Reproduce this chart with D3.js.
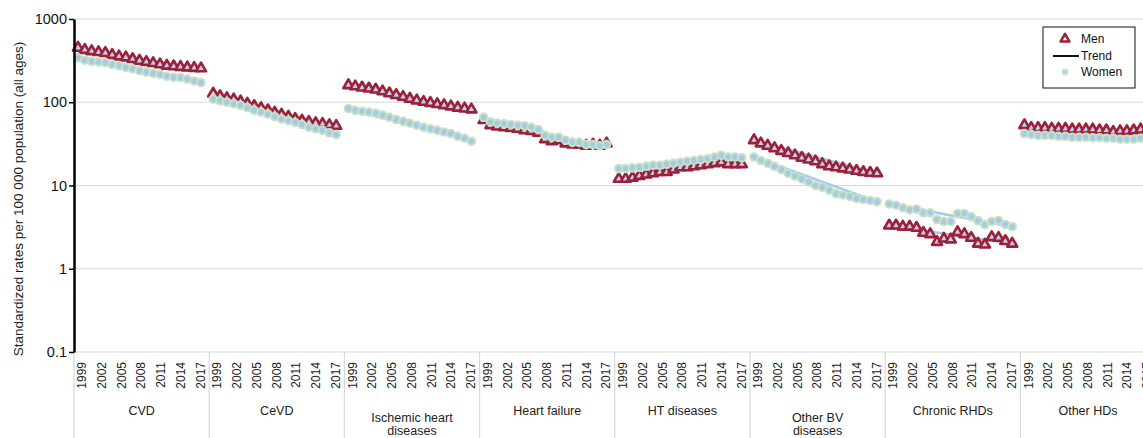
<!DOCTYPE html>
<html lang="en">
  <head>
    <meta charset="UTF-8" />
    <title>Standardized rates by cause</title>
    <script src="https://cdn.jsdelivr.net/npm/d3@7"></script>
    <style>
      body { margin: 0; background: #fff; }
      svg { font-family: "Liberation Sans", Arial, sans-serif; }
    </style>
  </head>
  <body>
    <svg width="1143" height="438"></svg>
    <script>
      const width = 1143;
      const height = 438;

      const categories = ["CVD", "CeVD", "Ischemic heart\ndiseases", "Heart failure",
        "HT diseases", "Other BV\ndiseases", "Chronic RHDs", "Other HDs"];
      const years = d3.range(1999, 2018);
      const tickYears = [1999, 2002, 2005, 2008, 2011, 2014, 2017];
      const yTicks = [0.1, 1, 10, 100, 1000];

      // rates per 100 000, 1999..2017, one row per category
      const men = [
        [451, 425, 410, 400, 390, 370, 355, 345, 330, 315, 305, 295, 285, 275, 270, 265, 262, 258, 255],
        [127, 118, 112, 108, 102, 96, 90, 85, 80, 75, 71, 67, 63, 60, 58, 56, 55, 53, 52],
        [160, 155, 150, 146, 142, 135, 128, 122, 116, 110, 105, 101, 98, 95, 92, 89, 86, 84, 82],
        [61, 53, 51, 50, 49, 48, 46, 45, 43, 36, 34, 35, 32, 31, 31, 30, 31, 30, 32],
        [12.0, 12.0, 12.4, 13, 13.5, 14, 14.5, 14.5, 15.5, 16.5, 16.5, 17, 17.5, 18, 18.5, 19, 18, 18, 18],
        [35, 32, 30, 28, 26, 24.5, 23, 21.5, 20.5, 19.5, 18, 17, 16.5, 16, 15.5, 15, 14.5, 14.2, 14],
        [3.3, 3.3, 3.2, 3.2, 3.1, 2.7, 2.6, 2.1, 2.3, 2.25, 2.75, 2.6, 2.35, 2.0, 1.95, 2.4, 2.35, 2.15, 2.0],
        [53, 49, 49, 49, 48, 48, 48, 47, 47, 47, 47, 46, 46, 44, 45, 45, 46, 47, 47]
      ];
      const women = [
        [342, 320, 310, 305, 300, 285, 275, 262, 252, 240, 230, 222, 215, 205, 200, 198, 190, 180, 172],
        [109, 104, 100, 96, 92, 86, 80, 76, 72, 67, 63, 60, 57, 54, 50, 48, 46, 43, 41],
        [84, 80, 78, 76, 74, 70, 66, 62, 59, 56, 53, 50, 48, 46, 44, 42, 39, 37, 34],
        [66, 58, 56, 55, 54, 53, 52, 50, 47, 40, 38, 38, 35, 33, 33, 31, 31, 30, 31],
        [16, 16, 16.3, 16.5, 17, 17.5, 17.5, 18, 18.5, 19, 19.5, 20, 20.5, 21, 22, 23, 22, 22, 21.5],
        [22, 20, 18.5, 17, 15.5, 14, 13, 12, 11, 10, 9.5, 8.8, 8, 7.7, 7.4, 7, 6.8, 6.6, 6.4],
        [6.0, 5.8, 5.4, 5.1, 5.2, 4.7, 4.7, 3.9, 3.7, 3.7, 4.6, 4.6, 4.2, 3.8, 3.4, 3.7, 3.8, 3.4, 3.2],
        [42, 41, 40, 40, 40, 39, 39, 38, 38, 38, 37.5, 37.5, 37, 37, 36, 36, 36, 37, 37]
      ];
      // trend joinpoints [year, rate]
      const trendMen = [
        [[1999, 445], [2017, 250]],
        [[1999, 125], [2017, 51]],
        [[1999, 158], [2017, 81]],
        [[1999, 58], [2007, 44], [2008, 35], [2017, 31]],
        [[1999, 12], [2013, 18.5], [2017, 18]],
        [[1999, 35], [2017, 14]],
        [[1999, 3.3], [2017, 2.0]],
        [[1999, 50], [2017, 46]]
      ];
      const trendWomen = [
        [[1999, 335], [2017, 172]],
        [[1999, 108], [2017, 41]],
        [[1999, 83], [2017, 34]],
        [[1999, 62], [2007, 48], [2009, 38], [2017, 31]],
        [[1999, 16], [2014, 22.5], [2017, 21.5]],
        [[1999, 22], [2017, 6.4]],
        [[1999, 6.0], [2017, 3.2]],
        [[1999, 41], [2017, 36.5]]
      ];

      const plotLeft = 74, plotTop = 19, plotBottom = 352;
      const groupW = 135.2;

      const svg = d3.select("svg");

      const xGroup = d3.scaleBand().domain(categories)
        .range([plotLeft, plotLeft + groupW * categories.length]);
      const xYear = d3.scalePoint().domain(years).range([4, 127]);
      const xLabel = d3.scalePoint().domain(years).range([8, 126.5]);
      const y = d3.scaleLog().domain([0.1, 1000]).range([plotBottom, plotTop]);

      // grid
      svg.append("g").selectAll("line")
        .data(yTicks)
        .join("line")
        .attr("x1", plotLeft).attr("x2", width)
        .attr("y1", d => y(d)).attr("y2", d => y(d))
        .attr("stroke", "#d9d9d9").attr("stroke-width", 1.2);

      // group dividers below plot
      svg.append("g").selectAll("line")
        .data(categories)
        .join("line")
        .attr("x1", d => xGroup(d)).attr("x2", d => xGroup(d))
        .attr("y1", plotBottom).attr("y2", height)
        .attr("stroke", "#d9d9d9").attr("stroke-width", 1.2);

      const groups = svg.append("g").selectAll("g")
        .data(categories)
        .join("g")
        .attr("transform", d => `translate(${xGroup(d)},0)`);

      const trendLine = d3.line().x(d => xYear(d[0])).y(d => y(d[1]));

      groups.append("path")
        .attr("d", (d, i) => trendLine(trendMen[i]))
        .attr("fill", "none").attr("stroke", "#a7c8e8").attr("stroke-width", 2.5);
      groups.append("path")
        .attr("d", (d, i) => trendLine(trendWomen[i]))
        .attr("fill", "none").attr("stroke", "#a7c8e8").attr("stroke-width", 2.5);

      const tri = d3.symbol().type(d3.symbolTriangle).size(44);

      groups.each(function (c, i) {
        const g = d3.select(this);
        g.selectAll("path.men")
          .data(men[i])
          .join("path")
          .attr("class", "men")
          .attr("d", tri)
          .attr("transform", (v, j) => `translate(${xYear(years[j])},${y(v)})`)
          .attr("fill", "#b9d3ec")
          .attr("stroke", "#a01f38")
          .attr("stroke-width", 2.6)
          .attr("stroke-linejoin", "round");
        g.selectAll("circle.women")
          .data(women[i])
          .join("circle")
          .attr("class", "women")
          .attr("cx", (v, j) => xYear(years[j]))
          .attr("cy", v => y(v))
          .attr("r", 3.8)
          .attr("fill", "#a9c8e6")
          .attr("stroke", "#c4e2c4")
          .attr("stroke-width", 2);

        // year labels
        g.selectAll("text.yr")
          .data(tickYears)
          .join("text")
          .attr("class", "yr")
          .attr("transform", d => `translate(${xLabel(d)},362) rotate(-90)`)
          .attr("text-anchor", "end")
          .attr("dy", "0.35em")
          .attr("font-size", 12)
          .attr("fill", "#222")
          .text(d => d);

        // category name
        const lines = c.split("\n");
        const t = g.append("text")
          .attr("text-anchor", "middle")
          .attr("font-size", 12.5)
          .attr("fill", "#222");
        lines.forEach((l, k) => {
          t.append("tspan")
            .attr("x", groupW / 2)
            .attr("y", (lines.length > 1 ? 422 : 415) + k * 13)
            .text(l);
        });
      });

      // y axis
      const yAxis = d3.axisLeft(y).tickValues(yTicks)
        .tickFormat(d3.format("~g")).tickSize(5).tickSizeOuter(0);
      const ax = svg.append("g").attr("transform", `translate(${plotLeft},0)`).call(yAxis);
      ax.select(".domain").attr("stroke", "#000").attr("stroke-width", 2.5);
      ax.selectAll(".tick line").attr("stroke", "#000").attr("stroke-width", 1.5);
      ax.selectAll(".tick text").attr("font-size", 14.5).attr("fill", "#111")
        .attr("font-family", "Liberation Sans, Arial, sans-serif").attr("x", -7);

      svg.append("text")
        .attr("transform", "translate(18,199) rotate(-90)")
        .attr("text-anchor", "middle")
        .attr("dy", "0.35em")
        .attr("font-size", 13.5)
        .attr("fill", "#222")
        .text("Standardized rates per 100 000 population (all ages)");

      // legend
      const lg = svg.append("g").attr("transform", "translate(1043,27)");
      lg.append("rect").attr("width", 92).attr("height", 61)
        .attr("fill", "#fff").attr("stroke", "#111").attr("stroke-width", 1);
      lg.append("path").attr("d", d3.symbol().type(d3.symbolTriangle).size(34))
        .attr("transform", "translate(22,12)")
        .attr("fill", "#fff").attr("stroke", "#a01f38").attr("stroke-width", 2.6)
        .attr("stroke-linejoin", "round");
      lg.append("line").attr("x1", 10).attr("x2", 36).attr("y1", 29).attr("y2", 29)
        .attr("stroke", "#111").attr("stroke-width", 2);
      lg.append("circle").attr("cx", 22).attr("cy", 45).attr("r", 2.6)
        .attr("fill", "#b5d6e8").attr("stroke", "#c4e2c4").attr("stroke-width", 1.6);
      lg.selectAll("text.lab")
        .data(["Men", "Trend", "Women"])
        .join("text")
        .attr("class", "lab")
        .attr("x", 38)
        .attr("y", (d, i) => 12 + i * 16.5)
        .attr("dy", "0.35em")
        .attr("font-size", 12)
        .attr("fill", "#111")
        .text(d => d);
    </script>
  </body>
</html>
